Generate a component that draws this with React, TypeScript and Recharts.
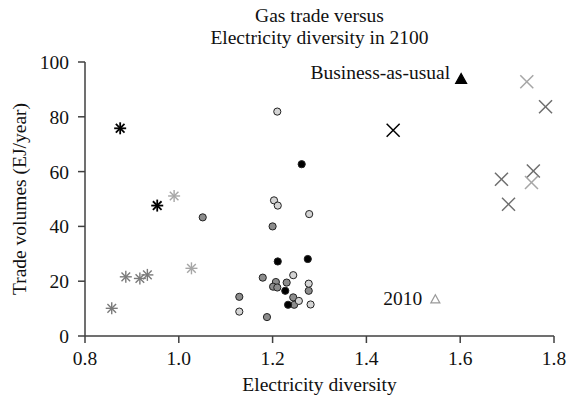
import React from "react";
import {
  ScatterChart,
  Scatter,
  XAxis,
  YAxis,
  Label,
} from "recharts";

// circles (1.2-ish cluster)
const circlesBlack = [
  { x: 1.262, y: 62.7 },
  { x: 1.211, y: 27.2 },
  { x: 1.275, y: 28.1 },
  { x: 1.227, y: 16.5 },
  { x: 1.233, y: 11.4 },
];
const circlesDark = [
  { x: 1.051, y: 43.3 },
  { x: 1.129, y: 14.3 },
  { x: 1.2, y: 40.0 },
  { x: 1.179, y: 21.3 },
  { x: 1.207, y: 19.7 },
  { x: 1.23, y: 19.5 },
  { x: 1.201, y: 18.0 },
  { x: 1.21, y: 17.7 },
  { x: 1.277, y: 16.5 },
  { x: 1.244, y: 14.1 },
  { x: 1.246, y: 11.4 },
  { x: 1.188, y: 6.9 },
];
const circlesLight = [
  { x: 1.129, y: 8.9 },
  { x: 1.21, y: 81.9 },
  { x: 1.203, y: 49.5 },
  { x: 1.211, y: 47.6 },
  { x: 1.278, y: 44.5 },
  { x: 1.244, y: 22.2 },
  { x: 1.277, y: 19.1 },
  { x: 1.256, y: 12.8 },
  { x: 1.281, y: 11.5 },
];

// asterisks
const starsBlack = [
  { x: 0.875, y: 75.8 },
  { x: 0.954, y: 47.6 },
];
const starsMid = [
  { x: 0.857, y: 10.1 },
  { x: 0.887, y: 21.6 },
  { x: 0.917, y: 21.0 },
  { x: 0.933, y: 22.3 },
];
const starsLight = [
  { x: 0.99, y: 51.1 },
  { x: 1.027, y: 24.7 },
];

// crosses
const crossBlack = [{ x: 1.457, y: 75.1 }];
const crossMid = [
  { x: 1.782, y: 83.7 },
  { x: 1.688, y: 57.2 },
  { x: 1.756, y: 60.2 },
  { x: 1.703, y: 48.1 },
];
const crossLight = [
  { x: 1.742, y: 92.8 },
  { x: 1.752, y: 56.0 },
];

// annotated reference points
const businessAsUsual = [{ x: 1.602, y: 93.8, label: "Business-as-usual" }];
const year2010 = [{ x: 1.547, y: 13.4, label: "2010" }];

const xTicks = [0.8, 1.0, 1.2, 1.4, 1.6, 1.8];
const yTicks = [0, 20, 40, 60, 80, 100];

const FONT = "Liberation Serif, Times New Roman, serif";
const FS = 19.5;
const AXIS = "#404040";

const circle = (fill: string) => (p: any) => (
  <circle cx={p.cx} cy={p.cy} r={3.6} fill={fill} stroke="#222" strokeWidth={1} />
);

const star = (color: string, w: number) => (p: any) => {
  const r = 6;
  const d = r * 0.72;
  return (
    <g stroke={color} strokeWidth={w}>
      <line x1={p.cx - r} y1={p.cy} x2={p.cx + r} y2={p.cy} />
      <line x1={p.cx} y1={p.cy - r} x2={p.cx} y2={p.cy + r} />
      <line x1={p.cx - d} y1={p.cy - d} x2={p.cx + d} y2={p.cy + d} />
      <line x1={p.cx - d} y1={p.cy + d} x2={p.cx + d} y2={p.cy - d} />
    </g>
  );
};

const cross = (color: string) => (p: any) => {
  const r = 6.5;
  return (
    <g stroke={color} strokeWidth={1.5}>
      <line x1={p.cx - r} y1={p.cy - r} x2={p.cx + r} y2={p.cy + r} />
      <line x1={p.cx - r} y1={p.cy + r} x2={p.cx + r} y2={p.cy - r} />
    </g>
  );
};

const labelledTriangle =
  (filled: boolean, textDy: number) => (p: any) => {
    const h = filled ? 5.5 : 4.5;
    const pts = `${p.cx},${p.cy - h} ${p.cx + h},${p.cy + h * 0.8} ${p.cx - h},${p.cy + h * 0.8}`;
    return (
      <g>
        <polygon
          points={pts}
          fill={filled ? "#000" : "#fff"}
          stroke={filled ? "#000" : "#999"}
          strokeWidth={1.2}
        />
        <text
          x={p.cx - (filled ? 11 : 13)}
          y={p.cy + textDy}
          textAnchor="end"
          style={{ fontFamily: FONT, fontSize: FS }}
          fill="#111"
        >
          {p.payload.label}
        </text>
      </g>
    );
  };

const XTick = (p: any) => (
  <text
    x={p.x}
    y={p.y}
    dy="0.71em"
    textAnchor="middle"
    fill="#111"
    style={{ fontFamily: FONT, fontSize: FS }}
  >
    {Number(p.payload.value).toFixed(1)}
  </text>
);

const YTick = (p: any) => (
  <text
    x={p.x}
    y={p.y}
    dy="0.355em"
    textAnchor="end"
    fill="#111"
    style={{ fontFamily: FONT, fontSize: FS }}
  >
    {p.payload.value}
  </text>
);

export default function App() {
  return (
    <div
      style={{
        position: "absolute",
        left: 0,
        top: 0,
        width: 566,
        height: 400,
        fontFamily: FONT,
      }}
    >
      <div
        style={{
          position: "absolute",
          left: 85,
          width: 469,
          top: 5,
          textAlign: "center",
          fontSize: FS,
          lineHeight: "22px",
          color: "#111",
        }}
      >
        Gas trade versus
        <br />
        Electricity diversity in 2100
      </div>
      <ScatterChart
        width={566}
        height={400}
        margin={{ top: 62, right: 12, bottom: 24, left: 30 }}
        style={{ fontFamily: FONT }}
      >
        <XAxis
          type="number"
          dataKey="x"
          domain={[0.8, 1.8]}
          ticks={xTicks}
          stroke={AXIS}
          strokeWidth={1.5}
          tickSize={7}
          tickMargin={8}
          tick={<XTick />}
          height={40}
        >
          <Label
            value="Electricity diversity"
            position="insideBottom"
            offset={-15}
            style={{ fontFamily: FONT, fontSize: FS, fill: "#111" }}
          />
        </XAxis>
        <YAxis
          type="number"
          dataKey="y"
          domain={[0, 100]}
          ticks={yTicks}
          stroke={AXIS}
          strokeWidth={1.5}
          tickSize={7}
          tickMargin={9}
          tick={<YTick />}
          width={55}
        >
          <Label
            value="Trade volumes (EJ/year)"
            angle={-90}
            position="insideLeft"
            offset={-11}
            style={{ textAnchor: "middle", fontFamily: FONT, fontSize: FS, fill: "#111" }}
          />
        </YAxis>
        <Scatter data={starsMid} shape={star("#7a7a7a", 1.4)} isAnimationActive={false} />
        <Scatter data={starsLight} shape={star("#a6a6a6", 1.4)} isAnimationActive={false} />
        <Scatter data={starsBlack} shape={star("#000", 1.8)} isAnimationActive={false} />
        <Scatter data={circlesDark} shape={circle("#8c8c8c")} isAnimationActive={false} />
        <Scatter data={circlesLight} shape={circle("#d4d4d4")} isAnimationActive={false} />
        <Scatter data={circlesBlack} shape={circle("#000")} isAnimationActive={false} />
        <Scatter data={crossMid} shape={cross("#6e6e6e")} isAnimationActive={false} />
        <Scatter data={crossLight} shape={cross("#a6a6a6")} isAnimationActive={false} />
        <Scatter data={crossBlack} shape={cross("#000")} isAnimationActive={false} />
        <Scatter data={businessAsUsual} shape={labelledTriangle(true, 0)} isAnimationActive={false} />
        <Scatter data={year2010} shape={labelledTriangle(false, 6)} isAnimationActive={false} />
      </ScatterChart>
    </div>
  );
}
